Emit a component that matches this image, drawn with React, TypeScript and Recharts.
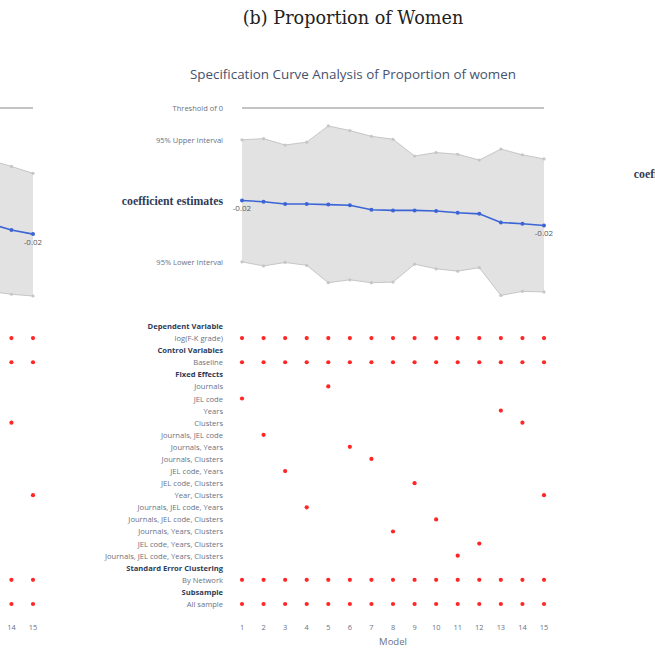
import {
  Area,
  ComposedChart,
  Line,
  ReferenceLine,
  Scatter,
  ScatterChart,
  XAxis,
  YAxis,
} from 'recharts';

// ---- data ----
const MODELS = [1, 2, 3, 4, 5, 6, 7, 8, 9, 10, 11, 12, 13, 14, 15];
const UPPER = [-0.0055, -0.0053, -0.0064, -0.0059, -0.0031, -0.0039, -0.0049, -0.0054, -0.0083, -0.0077, -0.008, -0.009, -0.0071, -0.0081, -0.0088];
const COEF = [-0.016, -0.0162, -0.0166, -0.0166, -0.0167, -0.0168, -0.0176, -0.0177, -0.0177, -0.0178, -0.0181, -0.0183, -0.0198, -0.02, -0.0203];
const LOWER = [-0.0266, -0.0273, -0.0267, -0.0272, -0.0302, -0.0297, -0.0302, -0.0301, -0.027, -0.0278, -0.0282, -0.0276, -0.0324, -0.0317, -0.0318];
const FIXED_EFFECTS = [
  'JEL code',
  'Journals, JEL code',
  'JEL code, Years',
  'Journals, JEL code, Years',
  'Journals',
  'Journals, Years',
  'Journals, Clusters',
  'Journals, Years, Clusters',
  'JEL code, Clusters',
  'Journals, JEL code, Clusters',
  'Journals, JEL code, Years, Clusters',
  'JEL code, Years, Clusters',
  'Years',
  'Clusters',
  'Year, Clusters',
];

// neighbouring panel (a), only its right edge is in the crop
const LEFT_MODELS = [13, 14, 15];
const LEFT_UPPER = [-0.009, -0.0101, -0.0113];
const LEFT_COEF = [-0.02, -0.0211, -0.0218];
const LEFT_LOWER = [-0.0317, -0.0322, -0.0325];
const LEFT_SPEC_MODELS = [14, 15];
const LEFT_FIXED_EFFECTS = ['Clusters', 'Year, Clusters'];

// neighbouring panel (c), only its label column shows
const RIGHT_MODELS = [1];
const RIGHT_COEF = [-0.0114];

const DEPENDENT = 'log(F-K grade)';
const CONTROLS = 'Baseline';
const CLUSTERING = 'By Network';
const SUBSAMPLE = 'All sample';

const ROW_LABELS = [
  'Dependent Variable',
  'log(F-K grade)',
  'Control Variables',
  'Baseline',
  'Fixed Effects',
  'Journals',
  'JEL code',
  'Years',
  'Clusters',
  'Journals, JEL code',
  'Journals, Years',
  'Journals, Clusters',
  'JEL code, Years',
  'JEL code, Clusters',
  'Year, Clusters',
  'Journals, JEL code, Years',
  'Journals, JEL code, Clusters',
  'Journals, Years, Clusters',
  'JEL code, Years, Clusters',
  'Journals, JEL code, Years, Clusters',
  'Standard Error Clustering',
  'By Network',
  'Subsample',
  'All sample',
];
const HEADERS = ['Dependent Variable', 'Control Variables', 'Fixed Effects', 'Standard Error Clustering', 'Subsample'];
const TOP_LABELS = ['Threshold of 0', '95% Upper Interval', 'coefficient estimates', '95% Lower Interval'];

const SANS = '"Open Sans", "DejaVu Sans", sans-serif';
const LABEL = '#6b7182';
const HEAD = '#2e3b58';
const GREY = '#c6c6c6';
const BLUE = '#3b64d6';
const RED = '#ff2626';

const ROW_TICKS = ROW_LABELS.map((_, i) => i);

function TopTick({ y, payload, items }: any) {
  const item = items.find((t: any) => t.value === payload.value);
  if (!item) return <g />;
  const big = item.label === 'coefficient estimates';
  return (
    <text
      x={123}
      y={y}
      textAnchor="end"
      dominantBaseline="central"
      fontFamily={big ? '"Liberation Serif", serif' : SANS}
      fontWeight={big ? 700 : 400}
      fontSize={big ? 11.8 : 7.5}
      fill={big ? HEAD : LABEL}
    >
      {item.label}
    </text>
  );
}

function RowTick({ y, payload }: any) {
  const label = ROW_LABELS[payload.value];
  const head = HEADERS.includes(label);
  return (
    <text
      x={123}
      y={y}
      textAnchor="end"
      dominantBaseline="central"
      fontFamily={SANS}
      fontWeight={head ? 700 : 400}
      fontSize={7.6}
      fill={head ? HEAD : LABEL}
    >
      {label}
    </text>
  );
}

function ModelTick({ x, payload }: any) {
  return (
    <text x={x} y={311} textAnchor="middle" dominantBaseline="central" fontFamily={SANS} fontSize={7.4} fill={LABEL}>
      {payload.value}
    </text>
  );
}

function Panel({
  left,
  models,
  upper = [],
  coef,
  lower = [],
  specModels,
  fixedEffects,
  title,
}: {
  left: number;
  models: number[];
  upper?: number[];
  coef: number[];
  lower?: number[];
  specModels: number[];
  fixedEffects: string[];
  title?: string;
}) {
  const rows = models.map((m, i) => ({
    model: m,
    coef: coef[i],
    upper: upper[i],
    lower: lower[i],
    band: upper[i] != null ? [lower[i], upper[i]] : null,
  }));
  const tickItems = [0, upper[0], coef[0], lower[0]]
    .map((v, i) => ({ value: v, label: TOP_LABELS[i] }))
    .filter((t) => t.value != null);

  const dots: { x: number; y: number }[] = [];
  specModels.forEach((m, i) => {
    [DEPENDENT, CONTROLS, fixedEffects[i], CLUSTERING, SUBSAMPLE].forEach((lab) => {
      dots.push({ x: m, y: ROW_LABELS.indexOf(lab) });
    });
  });

  const endLabel = (p: any) => {
    const d = rows[p.index];
    if (!d || (d.model !== 1 && d.model !== 15)) return <g key={p.index} />;
    return (
      <text key={p.index} x={p.x} y={p.y + 7} textAnchor="middle" dominantBaseline="central" fontFamily={SANS} fontSize={8} fill="#5a5a5a">
        {Number(p.value).toFixed(2)}
      </text>
    );
  };

  return (
    <div style={{ position: 'absolute', left, top: 0, width: 655, height: 655 }}>
      {title && (
        <div
          style={{
            position: 'absolute',
            left: 0,
            width: 706,
            top: 65,
            textAlign: 'center',
            fontFamily: SANS,
            fontSize: 13.4,
            color: '#46526e',
            whiteSpace: 'nowrap',
          }}
        >
          {title}
        </div>
      )}
      <div style={{ position: 'absolute', left: 100, top: 98 }}>
        <ComposedChart width={460} height={218} data={rows} margin={{ top: 10, right: 16, bottom: 20, left: 0 }}>
          <XAxis type="number" dataKey="model" domain={[1, 15]} hide />
          <YAxis
            type="number"
            domain={[-0.0325, 0]}
            ticks={tickItems.map((t) => t.value)}
            width={142}
            axisLine={false}
            tickLine={false}
            interval={0}
            tick={<TopTick items={tickItems} />}
          />
          <ReferenceLine y={0} stroke="#8a8a8a" strokeWidth={1.2} />
          <Area dataKey="band" stroke="none" fill="#e2e2e2" fillOpacity={1} isAnimationActive={false} />
          <Line dataKey="upper" stroke={GREY} strokeWidth={1} dot={{ r: 1.6, fill: GREY, stroke: 'none' }} isAnimationActive={false} />
          <Line dataKey="lower" stroke={GREY} strokeWidth={1} dot={{ r: 1.6, fill: GREY, stroke: 'none' }} isAnimationActive={false} />
          <Line
            dataKey="coef"
            stroke={BLUE}
            strokeWidth={1.6}
            dot={{ r: 2, fill: BLUE, stroke: 'none' }}
            label={endLabel}
            isAnimationActive={false}
          />
        </ComposedChart>
      </div>
      <div style={{ position: 'absolute', left: 100, top: 316 }}>
        <ScatterChart width={460} height={336} margin={{ top: 10, right: 16, bottom: 8, left: 0 }}>
          <XAxis
            type="number"
            dataKey="x"
            domain={[1, 15]}
            ticks={MODELS}
            interval={0}
            axisLine={false}
            tickLine={false}
            height={40}
            tick={<ModelTick />}
            label={{ value: 'Model', position: 'insideBottom', offset: -1, fill: LABEL, fontSize: 9.5, fontFamily: SANS }}
          />
          <YAxis
            type="number"
            dataKey="y"
            domain={[0, 23]}
            reversed
            ticks={ROW_TICKS}
            interval={0}
            width={142}
            axisLine={false}
            tickLine={false}
            tick={<RowTick />}
          />
          <Scatter
            data={dots}
            isAnimationActive={false}
            shape={(p: any) => <circle cx={p.cx} cy={p.cy} r={2.1} fill={RED} />}
          />
        </ScatterChart>
      </div>
    </div>
  );
}

export default function App() {
  return (
    <div
      style={{
        position: 'fixed',
        left: 0,
        top: 0,
        width: 655,
        height: 655,
        overflow: 'hidden',
        background: '#fff',
      }}
    >
      <div
        style={{
          position: 'absolute',
          top: 8,
          left: 0,
          width: 706,
          textAlign: 'center',
          fontFamily: '"DejaVu Serif", serif',
          fontSize: 17.6,
          color: '#222',
        }}
      >
        (b) Proportion of Women
      </div>
      <Panel
        left={-511}
        models={LEFT_MODELS}
        upper={LEFT_UPPER}
        coef={LEFT_COEF}
        lower={LEFT_LOWER}
        specModels={LEFT_SPEC_MODELS}
        fixedEffects={LEFT_FIXED_EFFECTS}
      />
      <Panel
        left={0}
        models={MODELS}
        upper={UPPER}
        coef={COEF}
        lower={LOWER}
        specModels={MODELS}
        fixedEffects={FIXED_EFFECTS}
        title="Specification Curve Analysis of Proportion of women"
      />
      <Panel left={512} models={RIGHT_MODELS} coef={RIGHT_COEF} specModels={[]} fixedEffects={[]} />
    </div>
  );
}
